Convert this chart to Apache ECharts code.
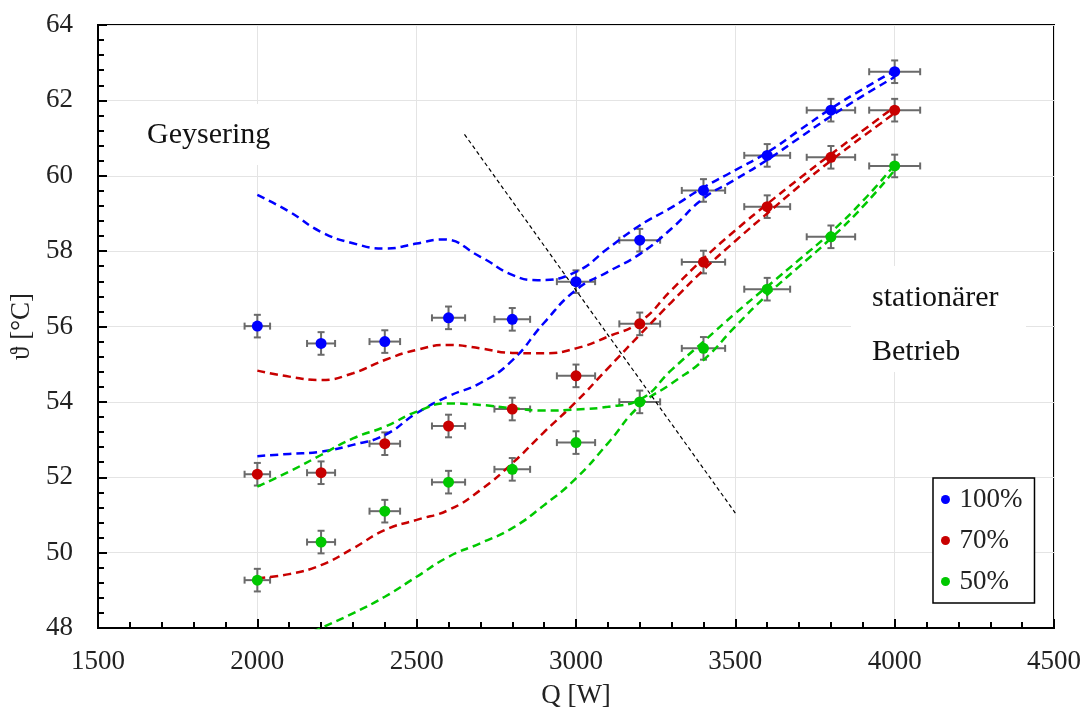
<!DOCTYPE html>
<html>
<head>
<meta charset="utf-8">
<script src="https://cdn.jsdelivr.net/npm/echarts@6/dist/echarts.min.js"></script>
<style>html,body{margin:0;padding:0;background:#fff;}#c{width:1085px;height:716px;}</style>
</head>
<body>
<div id="c"></div>
<script>
// ---- data ----
const Q = [2000, 2200, 2400, 2600, 2800, 3000, 3200, 3400, 3600, 3800, 4000];
const T100 = [56.01, 55.55, 55.6, 56.23, 56.19, 57.19, 58.29, 59.61, 60.54, 61.74, 62.76];
const T70  = [52.08, 52.12, 52.89, 53.36, 53.81, 54.69, 56.07, 57.71, 59.18, 60.49, 61.74];
const T50  = [49.27, 50.28, 51.1, 51.87, 52.21, 52.92, 54.0, 55.42, 56.99, 58.38, 60.26];
const xErr = [40, 44, 48, 52, 56, 60, 64, 68, 72, 76, 80];
const yErr = [0.3, 0.3, 0.3, 0.3, 0.3, 0.3, 0.3, 0.3, 0.3, 0.3, 0.3];

const blueUpper = [[2000,59.49],[2100,59.05],[2200,58.51],[2300,58.21],[2400,58.07],[2500,58.2],[2580,58.31],[2700,57.85],[2800,57.37],[2880,57.23],[3000,57.45],[3100,58.07],[3200,58.68],[3300,59.16],[3400,59.69],[3500,60.15],[3600,60.62],[3700,61.2],[3800,61.78],[3900,62.3],[4000,62.79]];
const blueLower = [[2000,52.56],[2100,52.62],[2200,52.68],[2300,52.86],[2400,53.12],[2500,53.7],[2600,54.15],[2700,54.5],[2800,55.1],[2900,56.1],[3000,56.97],[3100,57.45],[3200,57.92],[3300,58.6],[3400,59.4],[3500,59.9],[3600,60.42],[3700,61.0],[3800,61.58],[3900,62.12],[4000,62.62]];
const redUpper = [[2000,54.83],[2100,54.67],[2200,54.58],[2300,54.76],[2400,55.11],[2500,55.38],[2600,55.51],[2700,55.42],[2800,55.3],[2900,55.29],[3000,55.42],[3100,55.73],[3200,56.12],[3300,56.97],[3400,57.8],[3500,58.55],[3600,59.25],[3700,59.92],[3800,60.57],[3900,61.2],[4000,61.83]];
const redLower = [[2000,49.32],[2100,49.43],[2200,49.67],[2300,50.11],[2400,50.6],[2500,50.87],[2600,51.13],[2700,51.66],[2800,52.37],[2900,53.2],[3000,54.0],[3100,54.89],[3200,55.78],[3300,56.65],[3400,57.5],[3500,58.27],[3600,59.0],[3700,59.72],[3800,60.4],[3900,61.04],[4000,61.66]];
const greenUpper = [[2000,51.75],[2100,52.15],[2200,52.59],[2300,53.03],[2400,53.34],[2500,53.74],[2600,53.96],[2700,53.92],[2800,53.83],[2900,53.77],[3000,53.8],[3100,53.87],[3200,54.06],[3300,54.85],[3400,55.6],[3500,56.35],[3600,57.06],[3700,57.77],[3800,58.5],[3900,59.33],[4000,60.29]];
const greenLower = [[2100,47.6],[2200,48.0],[2300,48.39],[2400,48.83],[2500,49.36],[2600,49.89],[2700,50.25],[2800,50.65],[2900,51.26],[3000,51.97],[3100,52.9],[3200,53.9],[3300,54.49],[3400,55.11],[3500,56.0],[3600,56.84],[3700,57.59],[3800,58.34],[3900,59.18],[4000,60.15]];
const boundary = [[2650, 61.1], [3500, 51.05]];

const seriesNames = ['100%', '70%', '50%'];
const xTicks = { min: 1500, max: 4500, interval: 500 };
const yTicks = { min: 48, max: 64, interval: 2 };

// ---- styles ----
const FONT = "'Liberation Serif', 'Times New Roman', serif";
const COLORS = ['#0000ff', '#c80000', '#00c800'];
const ERR_COLOR = '#6a6a6a';

function errData(T) { return Q.map((q, i) => [q, T[i], xErr[i], yErr[i]]); }
function pts(T) { return Q.map((q, i) => [q, T[i]]); }

function errRender(params, api) {
  const q = api.value(0), t = api.value(1), ex = api.value(2), ey = api.value(3);
  const l = api.coord([q - ex, t]), r = api.coord([q + ex, t]);
  const tp = api.coord([q, t + ey]), bt = api.coord([q, t - ey]);
  const c = 3.5;
  const st = { stroke: ERR_COLOR, lineWidth: 2, fill: null };
  const line = (x1, y1, x2, y2) => ({ type: 'line', shape: { x1, y1, x2, y2 }, style: st });
  return {
    type: 'group',
    children: [
      line(l[0], l[1], r[0], r[1]),
      line(l[0], l[1] - c, l[0], l[1] + c),
      line(r[0], r[1] - c, r[0], r[1] + c),
      line(tp[0], tp[1], bt[0], bt[1]),
      line(tp[0] - c, tp[1], tp[0] + c, tp[1]),
      line(bt[0] - c, bt[1], bt[0] + c, bt[1])
    ]
  };
}

function curve(data, color) {
  return {
    type: 'line', data, smooth: 0.5, showSymbol: false, symbol: 'none', silent: true,
    lineStyle: { color, width: 2.5, type: [8, 5] }, z: 3, legendHoverLink: false
  };
}

const Ts = [T100, T70, T50];
const series = [];
Ts.forEach((T, k) => {
  series.push({ type: 'custom', renderItem: errRender, data: errData(T), z: 2, silent: true,
    encode: { x: 0, y: 1 } });
});
[[blueUpper, 0], [blueLower, 0], [redUpper, 1], [redLower, 1], [greenUpper, 2], [greenLower, 2]]
  .forEach(([d, k]) => series.push(curve(d, COLORS[k])));
series.push({ type: 'line', data: boundary, showSymbol: false, symbol: 'none', silent: true,
  lineStyle: { color: '#000', width: 1.2, type: [4, 3] }, z: 3 });
Ts.forEach((T, k) => {
  series.push({ name: seriesNames[k], type: 'scatter', data: pts(T), symbolSize: 11,
    itemStyle: { color: COLORS[k], opacity: 1 }, z: 4 });
});

const plain = v => String(v);

const chart = echarts.init(document.getElementById('c'), null, { renderer: 'canvas' });
chart.setOption({
  animation: false,
  backgroundColor: '#fff',
  textStyle: { fontFamily: FONT },
  grid: { left: 98, top: 25, right: 31, bottom: 88, show: true, borderColor: '#000', borderWidth: 2, backgroundColor: 'transparent' },
  legend: {
    data: seriesNames, orient: 'vertical', left: 933, top: 478,
    icon: 'circle', itemWidth: 18, itemHeight: 9, itemGap: 14,
    padding: [8, 12, 8, 8], borderColor: '#000', borderWidth: 1.5, backgroundColor: '#fff',
    textStyle: { fontFamily: FONT, fontSize: 27, color: '#222' }
  },
  xAxis: {
    type: 'value', min: xTicks.min, max: xTicks.max, interval: xTicks.interval,
    name: 'Q [W]', nameLocation: 'middle', nameGap: 54,
    nameTextStyle: { fontFamily: FONT, fontSize: 27, color: '#222' },
    axisLine: { lineStyle: { color: '#000', width: 2 } },
    axisTick: { inside: true, length: 9, lineStyle: { color: '#000', width: 2 } },
    minorTick: { show: true, splitNumber: 5, length: 6, lineStyle: { color: '#000', width: 2 } },
    splitLine: { show: true, lineStyle: { color: '#e4e4e4', width: 1 } },
    axisLabel: { fontFamily: FONT, fontSize: 27, color: '#222', margin: 20, formatter: plain }
  },
  yAxis: {
    type: 'value', min: yTicks.min, max: yTicks.max, interval: yTicks.interval,
    name: 'ϑ [°C]', nameLocation: 'middle', nameGap: 57, nameRotate: 90,
    nameTextStyle: { fontFamily: FONT, fontSize: 27, color: '#222' },
    axisLine: { lineStyle: { color: '#000', width: 2 } },
    axisTick: { inside: true, length: 9, lineStyle: { color: '#000', width: 2 } },
    minorTick: { show: true, splitNumber: 5, length: 6, lineStyle: { color: '#000', width: 2 } },
    splitLine: { show: true, lineStyle: { color: '#e4e4e4', width: 1 } },
    axisLabel: { fontFamily: FONT, fontSize: 27, color: '#222', margin: 25, formatter: plain }
  },
  graphic: [
    { type: 'rect', z: 1, shape: { x: 135, y: 104, width: 155, height: 61 }, style: { fill: '#fff' }, silent: true },
    { type: 'rect', z: 1, shape: { x: 851, y: 266, width: 175, height: 106 }, style: { fill: '#fff' }, silent: true },
    { type: 'text', z: 100, x: 147, y: 135, style: { text: 'Geysering', font: '30px ' + FONT, fill: '#111', textVerticalAlign: 'middle', verticalAlign: 'middle' } },
    { type: 'text', z: 100, x: 872, y: 298, style: { text: 'stationärer', font: '30px ' + FONT, fill: '#111', textVerticalAlign: 'middle', verticalAlign: 'middle' } },
    { type: 'text', z: 100, x: 872, y: 352, style: { text: 'Betrieb', font: '30px ' + FONT, fill: '#111', textVerticalAlign: 'middle', verticalAlign: 'middle' } }
  ],
  series
});
</script>
</body>
</html>
